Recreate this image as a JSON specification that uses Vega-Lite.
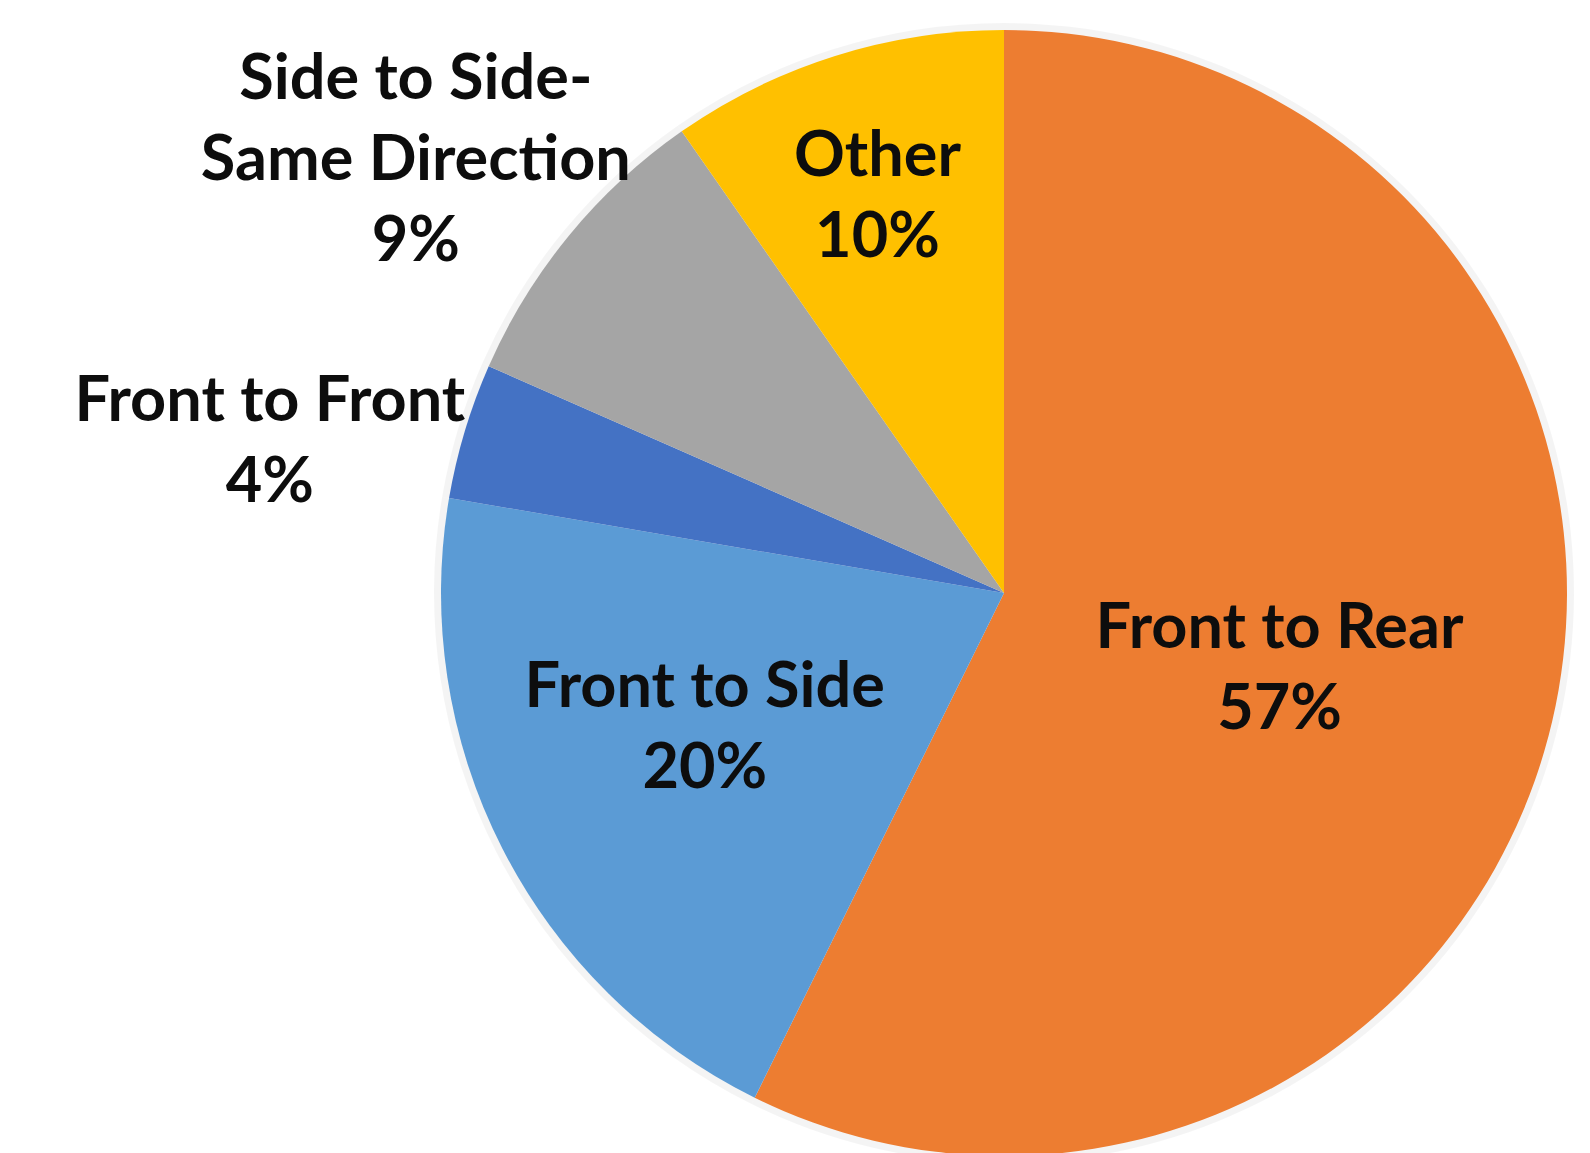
{
  "$schema": "https://vega.github.io/schema/vega-lite/v6.json",
  "autosize": {"type": "none"},
  "width": 1172,
  "height": 1120,
  "padding": {"left": 418, "top": 33, "right": 0, "bottom": 0},
  "background": "white",
  "view": {"stroke": null},
  "data": {
    "values": [
      {"idx": 1, "category": "Front to Rear", "value": 57.3, "label": "Front to Rear\n57%"},
      {"idx": 2, "category": "Front to Side", "value": 20.4, "label": "Front to Side\n20%"},
      {"idx": 3, "category": "Front to Front", "value": 3.9, "label": "Front to Front\n4%"},
      {"idx": 4, "category": "Side to Side-Same Direction", "value": 8.7, "label": "Side to Side-\nSame Direction\n9%"},
      {"idx": 5, "category": "Other", "value": 9.7, "label": "Other\n10%"}
    ]
  },
  "encoding": {
    "theta": {"field": "value", "type": "quantitative", "stack": true},
    "order": {"field": "idx", "type": "quantitative"}
  },
  "layer": [
    {
      "mark": {"type": "arc", "outerRadius": 570, "color": "#000000", "opacity": 0.045}
    },
    {
      "mark": {"type": "arc", "outerRadius": 563},
      "encoding": {
        "color": {
          "field": "category",
          "type": "nominal",
          "legend": null,
          "scale": {
            "domain": ["Front to Rear", "Front to Side", "Front to Front", "Side to Side-Same Direction", "Other"],
            "range": ["#ED7D31", "#5B9BD5", "#4472C4", "#A5A5A5", "#FFC000"]
          }
        }
      }
    },
    {
      "mark": {"type": "text", "radius": 286, "dx": -3, "dy": -29, "font": "Lato", "fontWeight": "bold", "fontSize": 63, "lineHeight": 81, "lineBreak": "\n", "color": "#0d0d0d", "align": "center", "baseline": "middle"},
      "encoding": {"text": {"condition": {"test": "datum.idx === 1", "field": "label"}, "value": ""}}
    },
    {
      "mark": {"type": "text", "radius": 328, "dx": -7, "dy": -54, "font": "Lato", "fontWeight": "bold", "fontSize": 63, "lineHeight": 81, "lineBreak": "\n", "color": "#0d0d0d", "align": "center", "baseline": "middle"},
      "encoding": {"text": {"condition": {"test": "datum.idx === 2", "field": "label"}, "value": ""}}
    },
    {
      "mark": {"type": "text", "radius": 751, "dx": -15, "dy": 25, "font": "Lato", "fontWeight": "bold", "fontSize": 63, "lineHeight": 81, "lineBreak": "\n", "color": "#0d0d0d", "align": "center", "baseline": "middle"},
      "encoding": {"text": {"condition": {"test": "datum.idx === 3", "field": "label"}, "value": ""}}
    },
    {
      "mark": {"type": "text", "radius": 729, "dx": -25, "dy": -50, "font": "Lato", "fontWeight": "bold", "fontSize": 63, "lineHeight": 81, "lineBreak": "\n", "color": "#0d0d0d", "align": "center", "baseline": "middle"},
      "encoding": {"text": {"condition": {"test": "datum.idx === 4", "field": "label"}, "value": ""}}
    },
    {
      "mark": {"type": "text", "radius": 415, "dx": -2, "dy": -40, "font": "Lato", "fontWeight": "bold", "fontSize": 63, "lineHeight": 81, "lineBreak": "\n", "color": "#0d0d0d", "align": "center", "baseline": "middle"},
      "encoding": {"text": {"condition": {"test": "datum.idx === 5", "field": "label"}, "value": ""}}
    }
  ]
}
